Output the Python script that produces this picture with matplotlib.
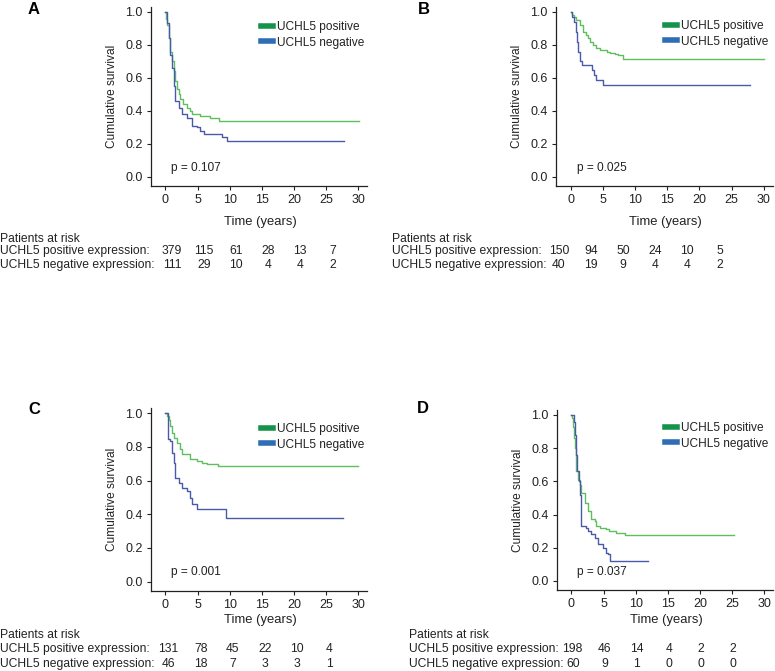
import matplotlib
matplotlib.use("Agg")
import matplotlib.pyplot as plt
from matplotlib.lines import Line2D
import matplotlib.transforms as mtransforms

plt.rcParams['font.family'] = ['Liberation Sans', 'DejaVu Sans']

W, H = 775, 671

# ---------------- data ----------------
A_pos_t = [0, 0.15, 0.3, 0.5, 0.77, 1.0, 1.3, 1.55, 1.8, 2.05, 2.3, 2.8, 3.3, 3.9, 4.1, 5.4, 6.9, 8.0, 8.4, 30.2]
A_pos_s = [1.0, 0.96, 0.92, 0.84, 0.76, 0.70, 0.64, 0.58, 0.53, 0.50, 0.47, 0.44, 0.42, 0.40, 0.38, 0.37, 0.36, 0.355, 0.34, 0.34]
A_neg_t = [0, 0.25, 0.5, 0.75, 1.0, 1.3, 1.55, 2.1, 2.6, 3.4, 4.1, 4.9, 5.4, 6.0, 8.8, 9.6, 27.8]
A_neg_s = [1.0, 0.93, 0.84, 0.74, 0.66, 0.55, 0.46, 0.42, 0.38, 0.36, 0.31, 0.30, 0.28, 0.26, 0.245, 0.22, 0.22]

B_pos_t = [0, 0.3, 0.5, 0.9, 1.45, 2.0, 2.4, 2.7, 3.0, 3.5, 4.0, 4.6, 5.6, 6.1, 6.9, 7.4, 8.2, 30.0]
B_pos_s = [1.0, 0.98, 0.97, 0.95, 0.92, 0.88, 0.86, 0.84, 0.82, 0.80, 0.78, 0.77, 0.76, 0.75, 0.745, 0.74, 0.715, 0.715]
B_neg_t = [0, 0.3, 0.6, 0.8, 1.0, 1.2, 1.5, 1.8, 3.3, 3.6, 3.9, 5.0, 27.8]
B_neg_s = [1.0, 0.97, 0.94, 0.88, 0.82, 0.76, 0.70, 0.68, 0.65, 0.62, 0.59, 0.56, 0.56]

C_pos_t = [0, 0.3, 0.5, 0.77, 1.0, 1.3, 1.8, 2.3, 2.6, 3.9, 4.9, 5.7, 6.4, 8.2, 30.0]
C_pos_s = [1.0, 0.98, 0.96, 0.925, 0.88, 0.855, 0.825, 0.785, 0.755, 0.726, 0.716, 0.706, 0.696, 0.686, 0.686]
C_neg_t = [0, 0.4, 0.77, 1.0, 1.3, 1.55, 2.1, 2.6, 3.3, 3.9, 4.1, 4.9, 9.5, 27.7]
C_neg_s = [1.0, 0.845, 0.835, 0.766, 0.706, 0.617, 0.587, 0.557, 0.538, 0.498, 0.458, 0.433, 0.379, 0.379]

D_pos_t = [0, 0.1, 0.26, 0.4, 0.5, 0.65, 0.78, 1.0, 1.3, 1.55, 2.1, 2.6, 3.1, 3.6, 3.9, 4.4, 5.4, 5.9, 7.0, 8.3, 25.4]
D_pos_s = [1.0, 0.98, 0.93, 0.86, 0.80, 0.72, 0.66, 0.61, 0.58, 0.53, 0.47, 0.42, 0.37, 0.36, 0.33, 0.32, 0.31, 0.30, 0.29, 0.275, 0.275]
D_neg_t = [0, 0.36, 0.5, 0.67, 0.88, 1.1, 1.3, 1.45, 1.55, 2.3, 2.6, 3.1, 3.6, 4.1, 4.9, 5.4, 5.7, 6.0, 11.9]
D_neg_s = [1.0, 0.96, 0.88, 0.76, 0.66, 0.60, 0.52, 0.42, 0.33, 0.32, 0.30, 0.28, 0.26, 0.22, 0.20, 0.17, 0.16, 0.12, 0.12]

risk_times = [0, 5, 10, 15, 20, 25]
A_risk_pos = [379, 115, 61, 28, 13, 7]
A_risk_neg = [111, 29, 10, 4, 4, 2]
B_risk_pos = [150, 94, 50, 24, 10, 5]
B_risk_neg = [40, 19, 9, 4, 4, 2]
C_risk_pos = [131, 78, 45, 22, 10, 4]
C_risk_neg = [46, 18, 7, 3, 3, 1]
D_risk_pos = [198, 46, 14, 4, 2, 2]
D_risk_neg = [60, 9, 1, 0, 0, 0]

p_values = ["p = 0.107", "p = 0.025", "p = 0.001", "p = 0.037"]
panel_letters = ["A", "B", "C", "D"]
legend_labels = ["UCHL5 positive", "UCHL5 negative"]
row_labels = ["Patients at risk", "UCHL5 positive expression:", "UCHL5 negative expression:"]

# ---------------- style ----------------
curve_green = "#5fbf5f"
curve_blue = "#4a5aa8"
leg_green = "#16934a"
leg_blue = "#2f6db5"
txt_col = "#222222"

fig = plt.figure(figsize=(W / 100, H / 100), dpi=100)

def px_axes(l, t, r, b):
    return fig.add_axes([l / W, 1 - b / H, (r - l) / W, (b - t) / H])

panels = [
    dict(box=(151, 7, 367, 186), pos=(A_pos_t, A_pos_s), neg=(A_neg_t, A_neg_s),
         risk=(A_risk_pos, A_risk_neg), letter=(28, 10), tbl_x=0, tbl_y=(239, 251, 265),
         xlab_y=222, leg=(261, 21), num_shift=None, num_off=1.0),
    dict(box=(556, 7, 773, 186), pos=(B_pos_t, B_pos_s), neg=(B_neg_t, B_neg_s),
         risk=(B_risk_pos, B_risk_neg), letter=(418, 10), tbl_x=392, tbl_y=(239, 251, 265),
         xlab_y=222, leg=(665, 20), num_shift=389, num_off=0.7),
    dict(box=(151, 408, 367, 591), pos=(C_pos_t, C_pos_s), neg=(C_neg_t, C_neg_s),
         risk=(C_risk_pos, C_risk_neg), letter=(28, 410), tbl_x=0, tbl_y=(635, 649, 664),
         xlab_y=620, leg=(261, 423), num_shift=None, num_off=0.5),
    dict(box=(557, 410, 773, 590), pos=(D_pos_t, D_pos_s), neg=(D_neg_t, D_neg_s),
         risk=(D_risk_pos, D_risk_neg), letter=(417, 409), tbl_x=409, tbl_y=(635, 649, 664),
         xlab_y=620, leg=(665, 422), num_shift=None, num_off=0.2),
]

fs = 9
axes = []
for i, p in enumerate(panels):
    l, t, r, b = p["box"]
    ax = px_axes(l, t, r, b)
    axes.append(ax)
    ax.step(p["pos"][0], p["pos"][1], where="post", color=curve_green, lw=1.0)
    ax.step(p["neg"][0], p["neg"][1], where="post", color=curve_blue, lw=1.0)
    ax.set_xlim(-2.25, 31.4)
    ax.set_ylim(-0.055, 1.03)
    ax.set_xticks([0, 5, 10, 15, 20, 25, 30])
    ax.set_yticks([0.0, 0.2, 0.4, 0.6, 0.8, 1.0])
    ax.set_yticklabels(["0.0", "0.2", "0.4", "0.6", "0.8", "1.0"])
    for s in ["top", "right"]:
        ax.spines[s].set_visible(False)
    for s in ["left", "bottom"]:
        ax.spines[s].set_color(txt_col)
        ax.spines[s].set_linewidth(0.9)
    ax.tick_params(labelsize=fs, length=3, width=0.8, color=txt_col, labelcolor=txt_col, pad=3)
    ax.set_ylabel("Cumulative survival", fontsize=8.6, color=txt_col)
    ax.yaxis.set_label_coords(-33.0 / (r - l), 0.5)
    ax.set_xlabel("Time (years)", fontsize=9.4, color=txt_col)
    ax.xaxis.set_label_coords(0.505, -(p["xlab_y"] - 6 - b) / (b - t))
    ax.text(0.93, 0.055, p_values[i], fontsize=8.6, color=txt_col, va="center", ha="left")
    handles = [Line2D([0], [0], color=leg_green, lw=4), Line2D([0], [0], color=leg_blue, lw=4)]
    lx, ly = p["leg"]
    leg = ax.legend(handles, legend_labels, loc="upper left",
                    bbox_to_anchor=((lx - l) / (r - l), 1 - (ly - t) / (b - t)),
                    frameon=False, fontsize=8.6, handlelength=1.0, handletextpad=0.35,
                    labelspacing=0.3, borderpad=0, borderaxespad=0)
    for txt in leg.get_texts():
        txt.set_color(txt_col)
    fig.text(p["letter"][0] / W, 1 - p["letter"][1] / H, panel_letters[i], fontsize=12,
             fontweight="bold", va="center", ha="left")
    ty = p["tbl_y"]
    for lab, yy in zip(row_labels, ty):
        fig.text(p["tbl_x"] / W, 1 - yy / H, lab, fontsize=8.7, va="center", ha="left", color=txt_col)

# risk table numbers (placed on the time scale of the panel's column)
for i, p in enumerate(panels):
    ty = p["tbl_y"]
    if p["num_shift"] is None:
        base = axes[i].transData
    else:
        base = axes[0].transData + mtransforms.ScaledTranslation(p["num_shift"] / 100, 0, fig.dpi_scale_trans)
    off = p["num_off"]
    trans = mtransforms.blended_transform_factory(base, fig.transFigure)
    for vals, yy in zip(p["risk"], ty[1:]):
        for tt, v in zip(risk_times, vals):
            fig.text(tt + off, 1 - yy / H, str(v), transform=trans, fontsize=8.7, va="center",
                     ha="center", color=txt_col)

fig.savefig("out.png", dpi=100)
